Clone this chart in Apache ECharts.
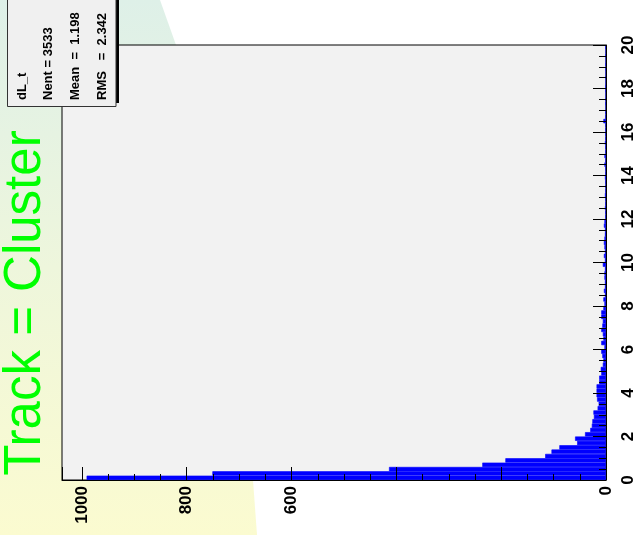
<!DOCTYPE html>
<html>
<head>
<meta charset="utf-8">
<script src="https://cdn.jsdelivr.net/npm/echarts@6/dist/echarts.min.js"></script>
<style>
  html, body { margin: 0; padding: 0; background: #fff; }
  #chart { width: 640px; height: 535px; }
</style>
</head>
<body>
<div id="chart"></div>
<script>
  // histogram dL_t, 100 bins of 0.2 from 0 to 20 (drawn rotated, like the ROOT canvas)
  const title = 'Track = Cluster';
  const statLines = ['dL_t', 'Nent = 3533', 'Mean  =  1.198', 'RMS   =  2.342'];
  const binWidth = 0.2;
  const counts = [
    991, 751, 414, 236, 192, 116, 104, 89, 55, 59,
    40, 30, 27, 26, 23, 24, 16, 14, 17, 18,
    18, 18, 13, 13, 9, 10, 6, 5, 7, 9,
    3, 9, 5, 6, 9, 7, 6, 9, 9, 5,
    3, 5, 2, 4, 2, 2, 3, 3, 2, 6,
    2, 4, 2, 3, 4, 3, 2, 2, 4, 3,
    1, 1, 2, 1, 1, 2, 1, 1, 1, 2,
    1, 1, 3, 1, 3, 1, 1, 2, 1, 1,
    1, 1, 5, 1, 1, 0, 1, 1, 0, 1,
    1, 0, 1, 0, 1, 1, 0, 1, 0, 1
  ];
  const countLabels = [0, 600, 800, 1000];
  const countMax = 1038;
  const dltMin = 0, dltMax = 20;

  const bins = counts.map((c, i) => (i * binWidth).toFixed(1));

  const myChart = echarts.init(document.getElementById('chart'));
  const labelFont = {
    fontSize: 17,
    fontWeight: 'bold',
    fontFamily: 'Liberation Sans, Arial, sans-serif',
    color: '#000'
  };

  const statsText = statLines.map((t, i) => ({
    type: 'text',
    x: [22, 48, 75, 102][i],
    y: 100,
    rotation: Math.PI / 2,
    z: 110,
    style: {
      text: t,
      fontSize: 13,
      fontWeight: 'bold',
      fontFamily: 'Liberation Sans, Arial, sans-serif',
      fill: '#000',
      align: 'left',
      verticalAlign: 'middle'
    }
  }));

  const option = {
    animation: false,
    backgroundColor: '#fff',
    grid: {
      left: 62,
      right: 34,
      top: 45,
      bottom: 55,
      show: true,
      backgroundColor: '#f2f2f2',
      borderColor: '#000',
      borderWidth: 1
    },
    xAxis: {
      type: 'value',
      min: 0,
      max: countMax,
      interval: 200,
      inverse: true,
      z: 5,
      axisLine: { show: true, onZero: false, lineStyle: { color: '#000', width: 1 } },
      axisTick: { show: true, inside: true, length: 13, lineStyle: { color: '#000' } },
      minorTick: { show: true, splitNumber: 4, length: 6, lineStyle: { color: '#000' } },
      splitLine: { show: false },
      axisLabel: Object.assign({
        rotate: 90,
        margin: 6,
        showMaxLabel: false,
        formatter: v => countLabels.includes(v) ? String(v) : ''
      }, labelFont)
    },
    yAxis: [
      {
        type: 'category',
        data: bins,
        show: false
      },
      {
        type: 'value',
        min: dltMin,
        max: dltMax,
        interval: 2,
        position: 'right',
        z: 5,
        axisLine: { show: true, lineStyle: { color: '#000', width: 1 } },
        axisTick: { show: true, inside: true, length: 13, lineStyle: { color: '#000' } },
        minorTick: { show: true, splitNumber: 4, length: 7, lineStyle: { color: '#000' } },
        splitLine: { show: false },
        axisLabel: Object.assign({ rotate: 90, margin: 14 }, labelFont)
      }
    ],
    series: [{
      name: 'dL_t',
      type: 'bar',
      xAxisIndex: 0,
      yAxisIndex: 0,
      data: counts,
      barWidth: '100%',
      barCategoryGap: '0%',
      itemStyle: { color: '#0000ff', borderColor: '#0000ff', borderWidth: 0.6 }
    }],
    graphic: [
      {
        type: 'polygon',
        z: -10,
        shape: { points: [[0, 0], [160, 0], [176, 45], [253, 480], [257, 535], [0, 535]] },
        style: {
          fill: new echarts.graphic.LinearGradient(0, 0, 0, 1, [
            { offset: 0, color: '#def0e8' },
            { offset: 0.5, color: '#eef6dc' },
            { offset: 1, color: '#fbfbd0' }
          ])
        }
      },
      {
        type: 'text',
        x: 26,
        y: 303,
        rotation: Math.PI / 2,
        z: 100,
        style: {
          text: title,
          fontSize: 51,
          fontFamily: 'Liberation Sans, Arial, sans-serif',
          fill: '#00ff00',
          align: 'center',
          verticalAlign: 'middle'
        }
      },
      {
        type: 'rect',
        z: 100,
        shape: { x: 10, y: -3, width: 109, height: 106 },
        style: { fill: '#000' }
      },
      {
        type: 'rect',
        z: 105,
        shape: { x: 7.5, y: -1.5, width: 108.5, height: 108 },
        style: { fill: '#f0f0f0', stroke: '#333', lineWidth: 1 }
      }
    ].concat(statsText)
  };

  myChart.setOption(option);
</script>
</body>
</html>
